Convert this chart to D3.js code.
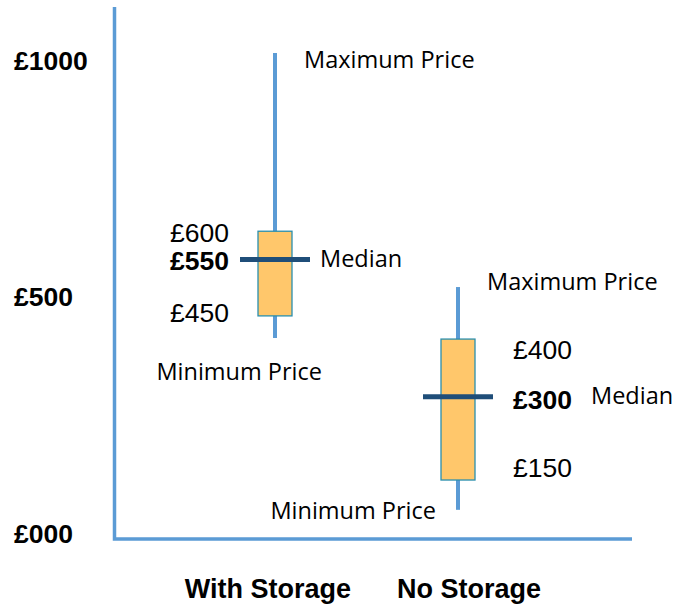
<!DOCTYPE html>
<html>
<head>
<meta charset="utf-8">
<script src="https://cdn.jsdelivr.net/npm/d3@7"></script>
<style>
  body { margin: 0; background: #fff; }
  svg { display: block; }
  .num { font-family: "Liberation Sans", Arial, sans-serif; fill: #000; }
  .note { font-family: "Open Sans", sans-serif; fill: #000; }
</style>
</head>
<body>
<div id="chart"></div>
<script>
// categories and box values (in £)
const categories = ["With Storage", "No Storage"];
const minPrice = [412, 49];
const lowerQ = [459, 112];
const medians = [578, 288];
const upperQ = [638, 410];
const maxPrice = [1015, 520];

// text written next to each box
const upperLabels = ["£600", "£400"];
const medianLabels = ["£550", "£300"];
const lowerLabels = ["£450", "£150"];

// y axis labels
const yTicks = [0, 500, 1000];
const yTickLabels = ["£000", "£500", "£1000"];

const width = 675, height = 607;

const svg = d3.select("#chart").append("svg")
	.attr("width", width)
	.attr("height", height);

const y = d3.scaleLinear().domain([0, 1000]).range([533, 60]);
const x = d3.scalePoint().domain(categories).range([275, 458]);

const boxes = categories.map((c, i) => ({
	cat: c,
	min: minPrice[i],
	q1: lowerQ[i],
	med: medians[i],
	q3: upperQ[i],
	max: maxPrice[i],
	up: upperLabels[i],
	mid: medianLabels[i],
	low: lowerLabels[i],
}));

const blue = "#5b9bd5";

// axis frame
svg.append("path")
	.attr("d", "M114.5,7 V539 H632")
	.attr("fill", "none")
	.attr("stroke", blue)
	.attr("stroke-width", 3.5);

// y labels, left aligned at the page edge
const yAxis = svg.append("g")
	.attr("transform", "translate(14,0)")
	.call(d3.axisRight(y).tickValues(yTicks).tickSize(0).tickPadding(0)
		.tickFormat((d, i) => yTickLabels[i]));
yAxis.select(".domain").remove();
yAxis.selectAll("text")
	.attr("class", "num")
	.style("font-size", "26.5px")
	.style("font-weight", "bold")
	.attr("dy", "0.35em");

// category labels
const catOffset = [-7, 11];
svg.selectAll(".cat")
	.data(categories)
	.enter()
	.append("text")
	.attr("class", "num")
	.attr("x", (d, i) => x(d) + catOffset[i])
	.attr("y", 598)
	.attr("text-anchor", "middle")
	.style("font-size", "27px")
	.style("font-weight", "bold")
	.text((d) => d);

const g = svg.selectAll(".box")
	.data(boxes)
	.enter()
	.append("g")
	.attr("class", "box");

// whiskers
g.append("line")
	.attr("x1", (d) => x(d.cat))
	.attr("x2", (d) => x(d.cat))
	.attr("y1", (d) => y(d.max))
	.attr("y2", (d) => y(d.min))
	.attr("stroke", blue)
	.attr("stroke-width", 4);

// box
const boxW = 34;
g.append("rect")
	.attr("x", (d) => x(d.cat) - boxW / 2)
	.attr("y", (d) => y(d.q3))
	.attr("width", boxW)
	.attr("height", (d) => y(d.q1) - y(d.q3))
	.attr("fill", "#ffc76b")
	.attr("stroke", "#2a8fae")
	.attr("stroke-width", 1.3);

// median
g.append("line")
	.attr("x1", (d) => x(d.cat) - 35)
	.attr("x2", (d) => x(d.cat) + 35)
	.attr("y1", (d) => y(d.med))
	.attr("y2", (d) => y(d.med))
	.attr("stroke", "#1f4e79")
	.attr("stroke-width", 5);

// annotation offsets: first box has its values on the left, second on the right
const notes = [
	{ anchor: "end", dx: -46, upDy: 1, medDy: 1, lowDy: -3, maxDx: 29, maxDy: 7, minDx: 47, minDy: 34, medDx: 45 },
	{ anchor: "start", dx: 55, upDy: 11, medDy: 3, lowDy: -12, maxDx: 29, maxDy: -5, minDx: -22, minDy: 1, medDx: 133 },
];

g.each(function (d, i) {
	const n = notes[i];
	const sel = d3.select(this);
	const cx = x(d.cat);

	sel.append("text").attr("class", "num")
		.attr("x", cx + n.dx).attr("y", y(d.q3) + n.upDy)
		.attr("dy", "0.35em").attr("text-anchor", n.anchor)
		.style("font-size", "26.5px").text(d.up);

	sel.append("text").attr("class", "num")
		.attr("x", cx + n.dx).attr("y", y(d.med) + n.medDy)
		.attr("dy", "0.35em").attr("text-anchor", n.anchor)
		.style("font-size", "26.5px").style("font-weight", "bold").text(d.mid);

	sel.append("text").attr("class", "num")
		.attr("x", cx + n.dx).attr("y", y(d.q1) + n.lowDy)
		.attr("dy", "0.35em").attr("text-anchor", n.anchor)
		.style("font-size", "26.5px").text(d.low);

	sel.append("text").attr("class", "note")
		.attr("x", cx + n.medDx).attr("y", y(d.med) - 1)
		.attr("dy", "0.35em")
		.style("font-size", "23.5px").text("Median");

	sel.append("text").attr("class", "note")
		.attr("x", cx + n.maxDx).attr("y", y(d.max) + n.maxDy)
		.attr("dy", "0.35em")
		.style("font-size", "23.5px").text("Maximum Price");

	sel.append("text").attr("class", "note")
		.attr("x", cx + n.minDx).attr("y", y(d.min) + n.minDy)
		.attr("dy", "0.35em").attr("text-anchor", "end")
		.style("font-size", "23.5px").text("Minimum Price");
});
</script>
</body>
</html>
